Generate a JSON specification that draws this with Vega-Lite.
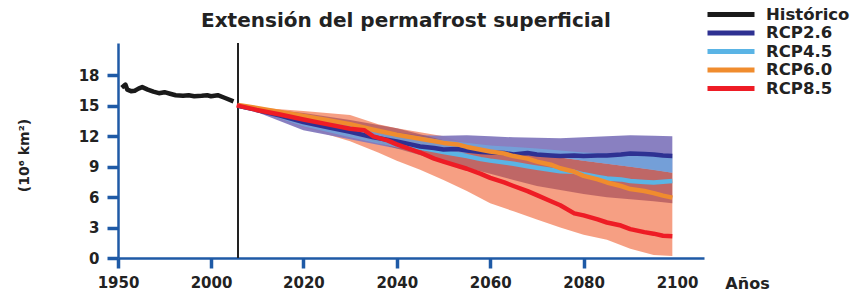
{
  "$schema": "https://vega.github.io/schema/vega-lite/v6.json",
  "width": 586,
  "height": 215,
  "autosize": {"type": "none"},
  "padding": {"left": 118, "top": 43, "right": 148, "bottom": 34},
  "background": "white",
  "title": {"text": "Extensión del permafrost superficial", "font": "DejaVu Sans", "fontSize": 20, "fontWeight": "bold", "color": "#222222", "anchor": "middle", "dx": -5, "offset": -23},
  "datasets": {
    "lines": [
      {"scenario": "Histórico", "year": 1952, "value": 16.8},
      {"scenario": "Histórico", "year": 1954, "value": 17.1},
      {"scenario": "Histórico", "year": 1955, "value": 16.6},
      {"scenario": "Histórico", "year": 1957, "value": 16.45},
      {"scenario": "Histórico", "year": 1959, "value": 16.5},
      {"scenario": "Histórico", "year": 1961, "value": 16.7},
      {"scenario": "Histórico", "year": 1963, "value": 16.85},
      {"scenario": "Histórico", "year": 1966, "value": 16.6},
      {"scenario": "Histórico", "year": 1969, "value": 16.4},
      {"scenario": "Histórico", "year": 1972, "value": 16.25},
      {"scenario": "Histórico", "year": 1975, "value": 16.35},
      {"scenario": "Histórico", "year": 1978, "value": 16.2},
      {"scenario": "Histórico", "year": 1981, "value": 16.05},
      {"scenario": "Histórico", "year": 1985, "value": 16.0},
      {"scenario": "Histórico", "year": 1988, "value": 16.05},
      {"scenario": "Histórico", "year": 1991, "value": 15.95},
      {"scenario": "Histórico", "year": 1995, "value": 16.0},
      {"scenario": "Histórico", "year": 1998, "value": 16.05},
      {"scenario": "Histórico", "year": 2000, "value": 15.95},
      {"scenario": "Histórico", "year": 2001.5, "value": 16.05},
      {"scenario": "Histórico", "year": 2003, "value": 15.8},
      {"scenario": "Histórico", "year": 2005, "value": 15.45},
      {"scenario": "RCP4.5", "year": 2006, "value": 15.0},
      {"scenario": "RCP4.5", "year": 2010, "value": 14.65},
      {"scenario": "RCP4.5", "year": 2015, "value": 14.15},
      {"scenario": "RCP4.5", "year": 2020, "value": 13.65},
      {"scenario": "RCP4.5", "year": 2025, "value": 13.15},
      {"scenario": "RCP4.5", "year": 2030, "value": 12.6},
      {"scenario": "RCP4.5", "year": 2035, "value": 12.0},
      {"scenario": "RCP4.5", "year": 2040, "value": 11.45},
      {"scenario": "RCP4.5", "year": 2045, "value": 10.9},
      {"scenario": "RCP4.5", "year": 2050, "value": 10.45},
      {"scenario": "RCP4.5", "year": 2055, "value": 10.05},
      {"scenario": "RCP4.5", "year": 2058, "value": 9.75},
      {"scenario": "RCP4.5", "year": 2060, "value": 9.6},
      {"scenario": "RCP4.5", "year": 2065, "value": 9.3},
      {"scenario": "RCP4.5", "year": 2068, "value": 9.05},
      {"scenario": "RCP4.5", "year": 2070, "value": 8.9},
      {"scenario": "RCP4.5", "year": 2075, "value": 8.55},
      {"scenario": "RCP4.5", "year": 2078, "value": 8.5},
      {"scenario": "RCP4.5", "year": 2080, "value": 8.25},
      {"scenario": "RCP4.5", "year": 2083, "value": 8.0},
      {"scenario": "RCP4.5", "year": 2085, "value": 7.85},
      {"scenario": "RCP4.5", "year": 2088, "value": 7.75},
      {"scenario": "RCP4.5", "year": 2090, "value": 7.6},
      {"scenario": "RCP4.5", "year": 2093, "value": 7.5},
      {"scenario": "RCP4.5", "year": 2095, "value": 7.45},
      {"scenario": "RCP4.5", "year": 2099, "value": 7.6},
      {"scenario": "RCP2.6", "year": 2006, "value": 15.0},
      {"scenario": "RCP2.6", "year": 2010, "value": 14.6},
      {"scenario": "RCP2.6", "year": 2015, "value": 14.05},
      {"scenario": "RCP2.6", "year": 2020, "value": 13.4},
      {"scenario": "RCP2.6", "year": 2025, "value": 12.9},
      {"scenario": "RCP2.6", "year": 2030, "value": 12.45},
      {"scenario": "RCP2.6", "year": 2035, "value": 11.9},
      {"scenario": "RCP2.6", "year": 2040, "value": 11.5},
      {"scenario": "RCP2.6", "year": 2043, "value": 11.2},
      {"scenario": "RCP2.6", "year": 2045, "value": 11.0},
      {"scenario": "RCP2.6", "year": 2048, "value": 10.85},
      {"scenario": "RCP2.6", "year": 2050, "value": 10.7},
      {"scenario": "RCP2.6", "year": 2053, "value": 10.75},
      {"scenario": "RCP2.6", "year": 2055, "value": 10.6},
      {"scenario": "RCP2.6", "year": 2058, "value": 10.45},
      {"scenario": "RCP2.6", "year": 2060, "value": 10.4},
      {"scenario": "RCP2.6", "year": 2063, "value": 10.35},
      {"scenario": "RCP2.6", "year": 2065, "value": 10.2},
      {"scenario": "RCP2.6", "year": 2068, "value": 10.35},
      {"scenario": "RCP2.6", "year": 2070, "value": 10.2},
      {"scenario": "RCP2.6", "year": 2073, "value": 10.1},
      {"scenario": "RCP2.6", "year": 2075, "value": 10.05},
      {"scenario": "RCP2.6", "year": 2078, "value": 10.1},
      {"scenario": "RCP2.6", "year": 2080, "value": 10.05},
      {"scenario": "RCP2.6", "year": 2083, "value": 10.1},
      {"scenario": "RCP2.6", "year": 2085, "value": 10.1},
      {"scenario": "RCP2.6", "year": 2088, "value": 10.2},
      {"scenario": "RCP2.6", "year": 2090, "value": 10.3},
      {"scenario": "RCP2.6", "year": 2093, "value": 10.25},
      {"scenario": "RCP2.6", "year": 2095, "value": 10.2},
      {"scenario": "RCP2.6", "year": 2097, "value": 10.1},
      {"scenario": "RCP2.6", "year": 2099, "value": 10.05},
      {"scenario": "RCP6.0", "year": 2006, "value": 15.1},
      {"scenario": "RCP6.0", "year": 2010, "value": 14.8},
      {"scenario": "RCP6.0", "year": 2015, "value": 14.4},
      {"scenario": "RCP6.0", "year": 2020, "value": 14.0},
      {"scenario": "RCP6.0", "year": 2025, "value": 13.6},
      {"scenario": "RCP6.0", "year": 2030, "value": 13.2},
      {"scenario": "RCP6.0", "year": 2035, "value": 12.65},
      {"scenario": "RCP6.0", "year": 2040, "value": 12.15},
      {"scenario": "RCP6.0", "year": 2045, "value": 11.75},
      {"scenario": "RCP6.0", "year": 2050, "value": 11.35},
      {"scenario": "RCP6.0", "year": 2053, "value": 11.2},
      {"scenario": "RCP6.0", "year": 2055, "value": 10.95},
      {"scenario": "RCP6.0", "year": 2060, "value": 10.5},
      {"scenario": "RCP6.0", "year": 2063, "value": 10.3},
      {"scenario": "RCP6.0", "year": 2065, "value": 10.05},
      {"scenario": "RCP6.0", "year": 2068, "value": 9.8},
      {"scenario": "RCP6.0", "year": 2070, "value": 9.5},
      {"scenario": "RCP6.0", "year": 2073, "value": 9.2},
      {"scenario": "RCP6.0", "year": 2075, "value": 8.85},
      {"scenario": "RCP6.0", "year": 2078, "value": 8.5},
      {"scenario": "RCP6.0", "year": 2080, "value": 8.1},
      {"scenario": "RCP6.0", "year": 2083, "value": 7.75},
      {"scenario": "RCP6.0", "year": 2085, "value": 7.45},
      {"scenario": "RCP6.0", "year": 2088, "value": 7.1},
      {"scenario": "RCP6.0", "year": 2090, "value": 6.8},
      {"scenario": "RCP6.0", "year": 2093, "value": 6.6},
      {"scenario": "RCP6.0", "year": 2095, "value": 6.4},
      {"scenario": "RCP6.0", "year": 2097, "value": 6.15},
      {"scenario": "RCP6.0", "year": 2099, "value": 5.95},
      {"scenario": "RCP8.5", "year": 2005.7, "value": 15.05},
      {"scenario": "RCP8.5", "year": 2010, "value": 14.6},
      {"scenario": "RCP8.5", "year": 2015, "value": 14.15},
      {"scenario": "RCP8.5", "year": 2020, "value": 13.65},
      {"scenario": "RCP8.5", "year": 2025, "value": 13.2},
      {"scenario": "RCP8.5", "year": 2030, "value": 12.75},
      {"scenario": "RCP8.5", "year": 2033, "value": 12.6},
      {"scenario": "RCP8.5", "year": 2035, "value": 12.0},
      {"scenario": "RCP8.5", "year": 2038, "value": 11.6},
      {"scenario": "RCP8.5", "year": 2040, "value": 11.2},
      {"scenario": "RCP8.5", "year": 2045, "value": 10.4},
      {"scenario": "RCP8.5", "year": 2048, "value": 9.8},
      {"scenario": "RCP8.5", "year": 2050, "value": 9.5},
      {"scenario": "RCP8.5", "year": 2055, "value": 8.8},
      {"scenario": "RCP8.5", "year": 2058, "value": 8.3},
      {"scenario": "RCP8.5", "year": 2060, "value": 7.9},
      {"scenario": "RCP8.5", "year": 2063, "value": 7.45},
      {"scenario": "RCP8.5", "year": 2065, "value": 7.1},
      {"scenario": "RCP8.5", "year": 2068, "value": 6.6},
      {"scenario": "RCP8.5", "year": 2070, "value": 6.2},
      {"scenario": "RCP8.5", "year": 2073, "value": 5.6},
      {"scenario": "RCP8.5", "year": 2075, "value": 5.2},
      {"scenario": "RCP8.5", "year": 2078, "value": 4.4},
      {"scenario": "RCP8.5", "year": 2080, "value": 4.2},
      {"scenario": "RCP8.5", "year": 2083, "value": 3.8},
      {"scenario": "RCP8.5", "year": 2085, "value": 3.5},
      {"scenario": "RCP8.5", "year": 2088, "value": 3.2},
      {"scenario": "RCP8.5", "year": 2090, "value": 2.85},
      {"scenario": "RCP8.5", "year": 2093, "value": 2.55},
      {"scenario": "RCP8.5", "year": 2095, "value": 2.4},
      {"scenario": "RCP8.5", "year": 2097, "value": 2.2},
      {"scenario": "RCP8.5", "year": 2099, "value": 2.15}
    ],
    "bands": [
      {"scenario": "RCP8.5", "year": 2006, "hi": 15.05, "lo": 15.0},
      {"scenario": "RCP8.5", "year": 2010, "hi": 14.85, "lo": 14.45},
      {"scenario": "RCP8.5", "year": 2020, "hi": 14.5, "lo": 12.9},
      {"scenario": "RCP8.5", "year": 2030, "hi": 14.1, "lo": 11.5},
      {"scenario": "RCP8.5", "year": 2036, "hi": 13.2, "lo": 10.4},
      {"scenario": "RCP8.5", "year": 2040, "hi": 12.8, "lo": 9.6},
      {"scenario": "RCP8.5", "year": 2045, "hi": 12.4, "lo": 8.7},
      {"scenario": "RCP8.5", "year": 2050, "hi": 12.0, "lo": 7.7},
      {"scenario": "RCP8.5", "year": 2055, "hi": 11.3, "lo": 6.6},
      {"scenario": "RCP8.5", "year": 2060, "hi": 10.6, "lo": 5.4},
      {"scenario": "RCP8.5", "year": 2065, "hi": 10.3, "lo": 4.6},
      {"scenario": "RCP8.5", "year": 2070, "hi": 10.1, "lo": 3.8},
      {"scenario": "RCP8.5", "year": 2075, "hi": 9.9, "lo": 3.0},
      {"scenario": "RCP8.5", "year": 2080, "hi": 9.6, "lo": 2.3},
      {"scenario": "RCP8.5", "year": 2085, "hi": 9.3, "lo": 1.8},
      {"scenario": "RCP8.5", "year": 2090, "hi": 9.0, "lo": 0.9},
      {"scenario": "RCP8.5", "year": 2095, "hi": 8.7, "lo": 0.3},
      {"scenario": "RCP8.5", "year": 2099, "hi": 8.4, "lo": 0.2},
      {"scenario": "RCP2.6", "year": 2006, "hi": 15.0, "lo": 15.0},
      {"scenario": "RCP2.6", "year": 2010, "hi": 14.7, "lo": 14.4},
      {"scenario": "RCP2.6", "year": 2020, "hi": 14.0, "lo": 12.6},
      {"scenario": "RCP2.6", "year": 2030, "hi": 13.2, "lo": 11.7},
      {"scenario": "RCP2.6", "year": 2040, "hi": 12.4, "lo": 10.8},
      {"scenario": "RCP2.6", "year": 2045, "hi": 12.1, "lo": 10.6},
      {"scenario": "RCP2.6", "year": 2050, "hi": 12.05, "lo": 10.5},
      {"scenario": "RCP2.6", "year": 2055, "hi": 12.1, "lo": 10.5},
      {"scenario": "RCP2.6", "year": 2060, "hi": 12.0, "lo": 10.5},
      {"scenario": "RCP2.6", "year": 2065, "hi": 11.9, "lo": 10.3},
      {"scenario": "RCP2.6", "year": 2070, "hi": 11.85, "lo": 10.1},
      {"scenario": "RCP2.6", "year": 2075, "hi": 11.8, "lo": 9.9},
      {"scenario": "RCP2.6", "year": 2080, "hi": 11.9, "lo": 9.6},
      {"scenario": "RCP2.6", "year": 2085, "hi": 12.0, "lo": 9.3},
      {"scenario": "RCP2.6", "year": 2090, "hi": 12.1, "lo": 9.0},
      {"scenario": "RCP2.6", "year": 2095, "hi": 12.05, "lo": 8.7},
      {"scenario": "RCP2.6", "year": 2099, "hi": 12.0, "lo": 8.4},
      {"scenario": "RCP6.0", "year": 2006, "hi": 15.0, "lo": 15.0},
      {"scenario": "RCP6.0", "year": 2010, "hi": 14.8, "lo": 14.5},
      {"scenario": "RCP6.0", "year": 2020, "hi": 14.3, "lo": 13.2},
      {"scenario": "RCP6.0", "year": 2030, "hi": 13.6, "lo": 12.2},
      {"scenario": "RCP6.0", "year": 2040, "hi": 12.8, "lo": 10.8},
      {"scenario": "RCP6.0", "year": 2050, "hi": 11.6, "lo": 9.5},
      {"scenario": "RCP6.0", "year": 2055, "hi": 11.1, "lo": 8.9},
      {"scenario": "RCP6.0", "year": 2060, "hi": 10.6, "lo": 8.3},
      {"scenario": "RCP6.0", "year": 2065, "hi": 10.3, "lo": 7.7},
      {"scenario": "RCP6.0", "year": 2070, "hi": 10.1, "lo": 7.1},
      {"scenario": "RCP6.0", "year": 2075, "hi": 9.9, "lo": 6.7},
      {"scenario": "RCP6.0", "year": 2080, "hi": 9.6, "lo": 6.3},
      {"scenario": "RCP6.0", "year": 2085, "hi": 9.3, "lo": 6.0},
      {"scenario": "RCP6.0", "year": 2090, "hi": 9.0, "lo": 5.8},
      {"scenario": "RCP6.0", "year": 2095, "hi": 8.7, "lo": 5.6},
      {"scenario": "RCP6.0", "year": 2099, "hi": 8.4, "lo": 5.4},
      {"scenario": "RCP4.5", "year": 2006, "hi": 15.0, "lo": 15.0},
      {"scenario": "RCP4.5", "year": 2010, "hi": 14.7, "lo": 14.5},
      {"scenario": "RCP4.5", "year": 2020, "hi": 14.1, "lo": 13.0},
      {"scenario": "RCP4.5", "year": 2030, "hi": 13.3, "lo": 11.9},
      {"scenario": "RCP4.5", "year": 2040, "hi": 12.3, "lo": 10.9},
      {"scenario": "RCP4.5", "year": 2050, "hi": 11.6, "lo": 10.4},
      {"scenario": "RCP4.5", "year": 2060, "hi": 11.1, "lo": 10.3},
      {"scenario": "RCP4.5", "year": 2070, "hi": 10.8, "lo": 10.1},
      {"scenario": "RCP4.5", "year": 2075, "hi": 10.6, "lo": 9.9},
      {"scenario": "RCP4.5", "year": 2080, "hi": 10.4, "lo": 9.6},
      {"scenario": "RCP4.5", "year": 2090, "hi": 10.2, "lo": 9.0},
      {"scenario": "RCP4.5", "year": 2099, "hi": 10.0, "lo": 8.4}
    ],
    "marker": [{"year": 2006}]
  },
  "encoding": {
    "x": {
      "field": "year",
      "type": "quantitative",
      "scale": {"domain": [1950, 2000, 2006, 2100, 2106], "range": [0, 93, 120, 559, 586], "nice": false, "zero": false},
      "axis": {
        "values": [1950, 2000, 2020, 2040, 2060, 2080, 2100],
        "format": "d",
        "grid": false,
        "domainColor": "#1f5aa6",
        "domainWidth": 2.5,
        "tickColor": "#1f5aa6",
        "tickOpacity": {"condition": {"test": "datum.value === 2100", "value": 0}, "value": 1},
        "tickWidth": 3.5,
        "tickSize": 10,
        "labelFont": "DejaVu Sans",
        "labelFontWeight": "bold",
        "labelFontSize": 15,
        "labelColor": "#222222",
        "labelPadding": 7,
        "labelFlush": false,
        "labelOverlap": false,
        "title": "Años",
        "titleFont": "DejaVu Sans",
        "titleFontWeight": "bold",
        "titleFontSize": 16,
        "titleColor": "#222222",
        "titleX": 629,
        "titleY": 25,
        "titleAlign": "center",
        "titleBaseline": "middle"
      }
    }
  },
  "layer": [
    {
      "data": {"name": "bands"},
      "transform": [{"filter": "datum.scenario === 'RCP8.5'"}],
      "mark": {"type": "area", "color": "#f59a7c", "opacity": 0.95},
      "encoding": {
        "y": {
          "field": "hi",
          "type": "quantitative",
          "scale": {"domain": [0, 21.2], "nice": false, "zero": true},
          "axis": {
            "values": [0, 3, 6, 9, 12, 15, 18],
            "tickCount": 7,
            "grid": false,
            "domainColor": "#1f5aa6",
            "domainWidth": 2.5,
            "tickColor": "#1f5aa6",
            "tickWidth": 3.5,
            "tickSize": 11,
            "labelFont": "DejaVu Sans",
            "labelFontWeight": "bold",
            "labelFontSize": 15,
            "labelColor": "#222222",
            "labelPadding": 8,
            "labelOverlap": false,
            "labelFlush": false,
            "title": "(10⁶ km²)",
            "titleFont": "DejaVu Sans",
            "titleFontWeight": "bold",
            "titleFontSize": 14,
            "titleColor": "#222222",
            "titleX": -94,
            "titleY": 112,
            "titleAlign": "center",
            "titleBaseline": "middle",
            "titleAngle": -90
          }
        },
        "y2": {"field": "lo"}
      }
    },
    {
      "data": {"name": "bands"},
      "transform": [{"filter": "datum.scenario === 'RCP2.6'"}],
      "mark": {"type": "area", "color": "#8379be", "opacity": 0.95},
      "encoding": {
        "y": {"field": "hi", "type": "quantitative"},
        "y2": {"field": "lo"}
      }
    },
    {
      "data": {"name": "bands"},
      "transform": [{"filter": "datum.scenario === 'RCP6.0'"}],
      "mark": {"type": "area", "color": "#a8505a", "opacity": 0.7},
      "encoding": {
        "y": {"field": "hi", "type": "quantitative"},
        "y2": {"field": "lo"}
      }
    },
    {
      "data": {"name": "bands"},
      "transform": [{"filter": "datum.scenario === 'RCP4.5'"}],
      "mark": {"type": "area", "color": "#6fa6dd", "opacity": 0.8},
      "encoding": {
        "y": {"field": "hi", "type": "quantitative"},
        "y2": {"field": "lo"}
      }
    },
    {
      "data": {"name": "marker"},
      "mark": {"type": "rule", "color": "#222222", "strokeWidth": 2},
      "encoding": {}
    },
    {
      "data": {"name": "lines"},
      "mark": {"type": "line", "strokeWidth": 4.5, "strokeJoin": "round"},
      "encoding": {
        "y": {
          "field": "value",
          "type": "quantitative",
          "scale": {"domain": [0, 21.2], "nice": false, "zero": true},
          "axis": {
            "values": [0, 3, 6, 9, 12, 15, 18],
            "tickCount": 7,
            "grid": false,
            "domainColor": "#1f5aa6",
            "domainWidth": 2.5,
            "tickColor": "#1f5aa6",
            "tickWidth": 3.5,
            "tickSize": 11,
            "labelFont": "DejaVu Sans",
            "labelFontWeight": "bold",
            "labelFontSize": 15,
            "labelColor": "#222222",
            "labelPadding": 8,
            "labelOverlap": false,
            "labelFlush": false,
            "title": "(10⁶ km²)",
            "titleFont": "DejaVu Sans",
            "titleFontWeight": "bold",
            "titleFontSize": 14,
            "titleColor": "#222222",
            "titleX": -94,
            "titleY": 112,
            "titleAlign": "center",
            "titleBaseline": "middle",
            "titleAngle": -90
          }
        },
        "color": {
          "field": "scenario",
          "type": "nominal",
          "scale": {"domain": ["Histórico", "RCP2.6", "RCP4.5", "RCP6.0", "RCP8.5"], "range": ["#1a1a1a", "#2e3192", "#5ab4e5", "#f08c2e", "#ee1c25"]},
          "legend": {
            "orient": "none",
            "legendX": 587,
            "legendY": -35,
            "title": null,
            "padding": 0,
            "symbolType": "stroke",
            "symbolSize": 2209,
            "symbolStrokeWidth": 5,
            "clipHeight": 13,
            "rowPadding": 1.5,
            "labelFont": "DejaVu Sans",
            "labelFontWeight": "bold",
            "labelFontSize": 16.5,
            "labelColor": "#222222",
            "labelOffset": 9
          }
        }
      }
    }
  ],
  "config": {"view": {"stroke": null}}
}
